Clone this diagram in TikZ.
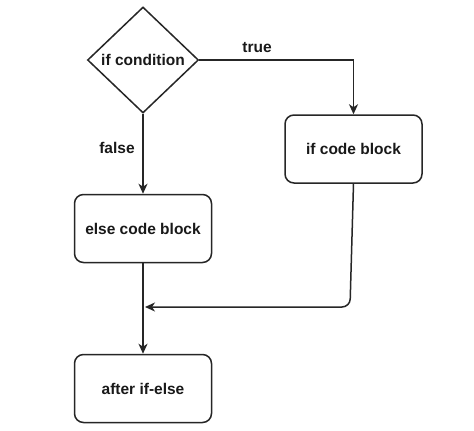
\documentclass[tikz,border=0pt]{standalone}
\usepackage{fontspec}
\setmainfont{Liberation Sans}
\usetikzlibrary{shapes.geometric,arrows.meta}
\begin{document}
\begin{tikzpicture}[x=1pt,y=-1pt,
  base/.style={draw=black!85, line width=1.5pt, font=\fontsize{15.5}{18}\selectfont\bfseries, text=black!90},
  blk/.style={base, rounded corners=9pt, minimum width=137pt, minimum height=68pt, inner sep=0pt},
  dia/.style={base, diamond, minimum width=111pt, minimum height=106pt, inner sep=0pt},
  arr/.style={draw=black!85, line width=1.5pt, -{Stealth[length=10pt,width=9pt,inset=3pt]}},
  lbl/.style={font=\fontsize{15.5}{18}\selectfont\bfseries, text=black!90}]
\useasboundingbox[fill=white] (0,0) rectangle (474,431);
\node[dia] (cond) at (143,60) {if condition};
\node[blk] (ifb) at (353.5,149) {if code block};
\node[blk] (elseb) at (143,228.5) {else code block};
\node[blk] (after) at (143,388.5) {after if-else};
\coordinate (m) at (145,307);
\coordinate (c) at (350,307);
\draw[arr] (cond.east) -| (ifb.north);
\draw[arr] (cond.south) -- (elseb.north);
\draw[arr, rounded corners=8pt] (ifb.south) -- (c) -- (m);
\draw[arr] (elseb.south) -- (after.north);
\node[lbl] (t) at (257,48) {true};
\node[lbl] (f) at (117,148) {false};
\end{tikzpicture}
\end{document}
